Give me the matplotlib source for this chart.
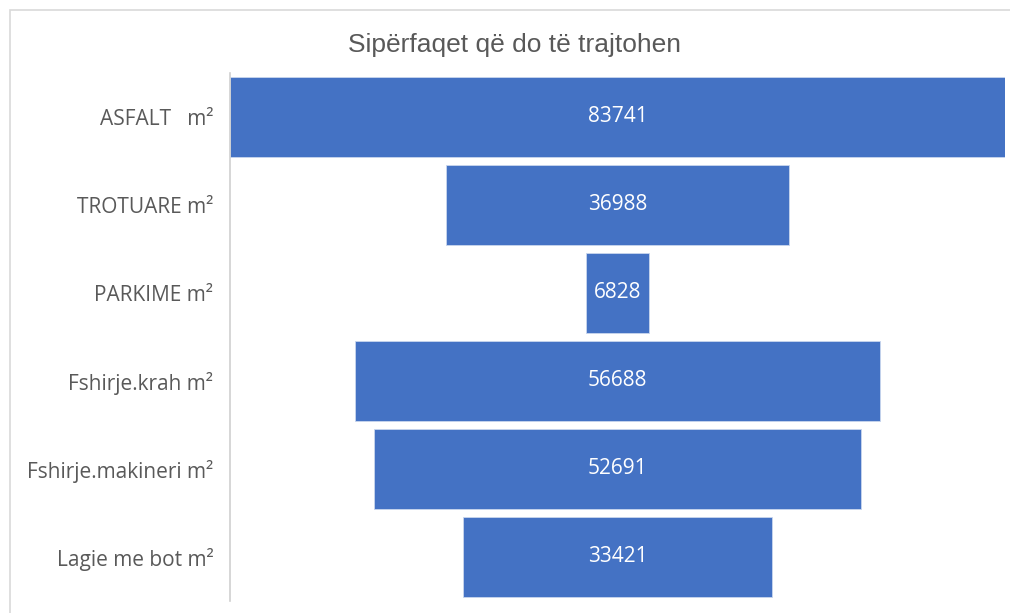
import matplotlib
matplotlib.use('Agg')
import matplotlib.pyplot as plt
from matplotlib.patches import Rectangle

# data
categories = ['ASFALT   m²', 'TROTUARE m²', 'PARKIME m²', 'Fshirje.krah m²',
              'Fshirje.makineri m²', 'Lagie me bot m²']
values = [83741, 36988, 6828, 56688, 52691, 33421]
title = 'Sipërfaqet që do të trajtohen'

bar_color = '#4472C4'
text_gray = '#595959'

plt.rcParams['font.family'] = ['Open Sans', 'DejaVu Sans']

fig = plt.figure(figsize=(10.1, 6.13), dpi=100)
fig.patch.set_facecolor('white')

# chart-area border (cropped at right and bottom)
fig.add_artist(Rectangle((10 / 1010, -0.1), 1.2, 1 - 10 / 613 + 0.1,
                         transform=fig.transFigure, fill=False,
                         edgecolor='#d9d9d9', linewidth=1.2))

ax = fig.add_axes([230 / 1010, 1 - 601 / 613, 775 / 1010, 528 / 613])

ypos = list(range(len(values)))
lefts = [-v / 2 for v in values]
ax.barh(ypos, values, left=lefts, height=0.9, color=bar_color,
        edgecolor='#c9d6ee', linewidth=0.6)

for y, v in zip(ypos, values):
  ax.text(0, y, str(v), ha='center', va='center', color='white', fontsize=15)

vmax = max(values)
ax.set_xlim(-vmax / 2, vmax / 2)
ax.set_ylim(len(values) - 0.5, -0.5)

ax.set_yticks(ypos)
ax.set_yticklabels(categories, fontsize=15, color=text_gray)
ax.tick_params(axis='y', length=0, pad=12)
ax.set_xticks([])

for side in ['top', 'right', 'bottom']:
  ax.spines[side].set_visible(False)
ax.spines['left'].set_color('#d0d0d0')
ax.spines['left'].set_linewidth(1.2)

fig.text(515 / 1010, 1 - 45 / 613, title, ha='center', va='center',
         fontsize=19, color=text_gray,
         family=['Liberation Sans Narrow', 'Liberation Sans', 'DejaVu Sans'])

fig.savefig('out.png', dpi=100, facecolor='white')
